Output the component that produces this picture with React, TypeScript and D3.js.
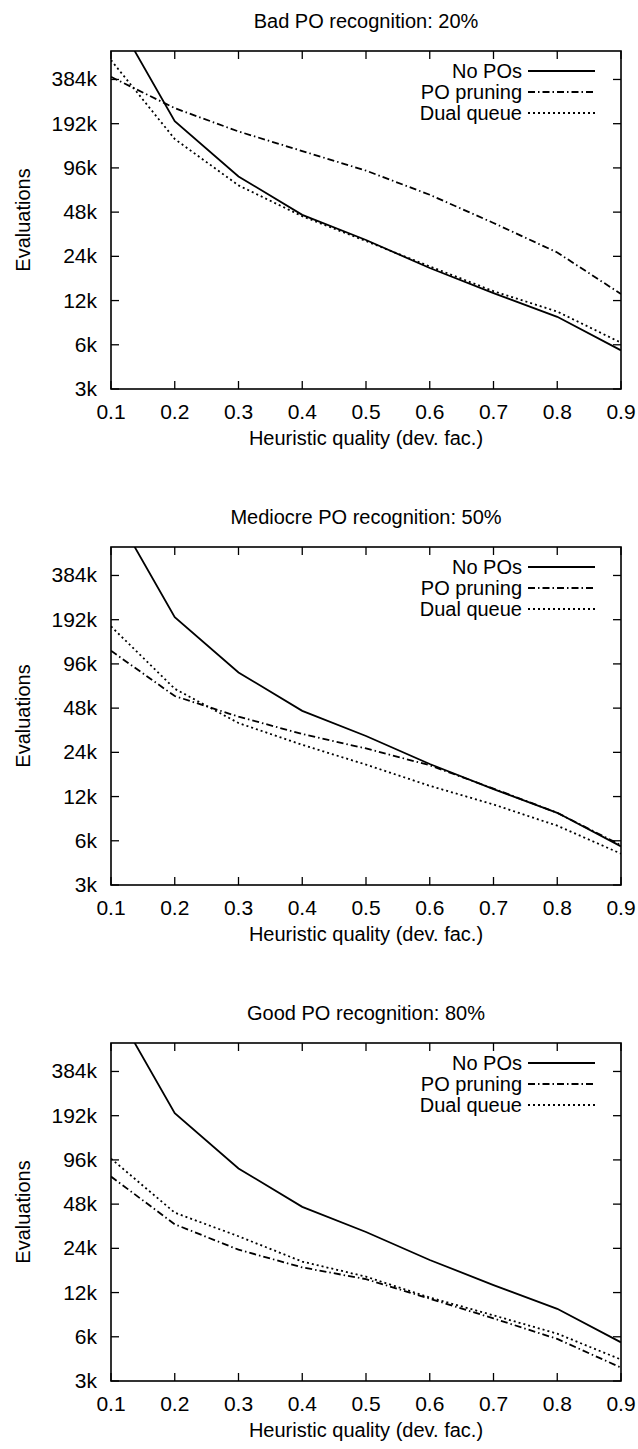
import React from "react";
import * as d3 from "d3";

const xValues = [0.1, 0.2, 0.3, 0.4, 0.5, 0.6, 0.7, 0.8, 0.9];
const xTicks = [0.1, 0.2, 0.3, 0.4, 0.5, 0.6, 0.7, 0.8, 0.9];
const yTicks = [3000, 6000, 12000, 24000, 48000, 96000, 192000, 384000];
const yTickLabels = ["3k", "6k", "12k", "24k", "48k", "96k", "192k", "384k"];

const seriesNames = ["No POs", "PO pruning", "Dual queue"];
const panelTitles = [
  "Bad PO recognition: 20%",
  "Mediocre PO recognition: 50%",
  "Good PO recognition: 80%",
];

const noPOs = [1150000, 200000, 84000, 46000, 31000, 20000, 13500, 9300, 5500];

const pruning20 = [400000, 245000, 170000, 125000, 92000, 63000, 40500, 25500, 13300];
const dual20 = [520000, 151000, 73000, 45000, 30500, 20500, 13900, 10100, 6200];

const pruning50 = [118000, 58000, 42000, 32000, 25500, 19600, 13600, 9300, 5600];
const dual50 = [173000, 65000, 38000, 27000, 19800, 14200, 10600, 7600, 4900];

const pruning80 = [74000, 35000, 23500, 17800, 14800, 10900, 8000, 5800, 3700];
const dual80 = [98000, 42000, 29000, 19500, 15400, 11100, 8400, 6300, 4200];

const panelData = [
  [noPOs, pruning20, dual20],
  [noPOs, pruning50, dual50],
  [noPOs, pruning80, dual80],
];

const dashes = [null, "7,3,1.5,3", "2,3"];

const FONT = "'Liberation Sans', Arial, Helvetica, sans-serif";
const FS = 20;
const LEFT = 111;
const RIGHT = 621;
const PANEL_H = 338;
const PANEL_TOPS = [51, 547, 1043];
const TICK = 8;

function Panel({ idx }: { idx: number }) {
  const top = PANEL_TOPS[idx];
  const bottom = top + PANEL_H;
  const x = d3.scaleLinear().domain([0.1, 0.9]).range([LEFT, RIGHT]);
  const y = d3.scaleLog().domain([3000, 600000]).range([bottom, top]);
  const line = d3
    .line<number>()
    .x((_, i) => x(xValues[i]))
    .y((v) => y(v));
  const clipId = `clip${idx}`;
  const cx = (LEFT + RIGHT) / 2;
  const cy = (top + bottom) / 2;
  return (
    <g>
      <defs>
        <clipPath id={clipId}>
          <rect x={LEFT} y={top} width={RIGHT - LEFT} height={PANEL_H} />
        </clipPath>
      </defs>
      <text x={cx} y={top - 23.5} textAnchor="middle" fontSize={FS} fontFamily={FONT}>
        {panelTitles[idx]}
      </text>
      {yTicks.map((t, i) => (
        <g key={"y" + i}>
          <line x1={LEFT} x2={LEFT + TICK} y1={y(t)} y2={y(t)} stroke="#000" strokeWidth={1.3} />
          <line x1={RIGHT} x2={RIGHT - TICK} y1={y(t)} y2={y(t)} stroke="#000" strokeWidth={1.3} />
          <text x={LEFT - 14} y={y(t) + 7} textAnchor="end" fontSize={FS + 1} fontFamily={FONT}>
            {yTickLabels[i]}
          </text>
        </g>
      ))}
      {xTicks.map((t, i) => (
        <g key={"x" + i}>
          <line x1={x(t)} x2={x(t)} y1={bottom} y2={bottom - TICK} stroke="#000" strokeWidth={1.3} />
          <line x1={x(t)} x2={x(t)} y1={top} y2={top + TICK} stroke="#000" strokeWidth={1.3} />
          <text x={x(t)} y={bottom + 30} textAnchor="middle" fontSize={FS + 1} fontFamily={FONT}>
            {t.toFixed(1)}
          </text>
        </g>
      ))}
      <text x={cx} y={bottom + 56} textAnchor="middle" fontSize={FS} fontFamily={FONT}>
        Heuristic quality (dev. fac.)
      </text>
      <text
        transform={`translate(30,${cy}) rotate(-90)`}
        textAnchor="middle"
        fontSize={FS}
        fontFamily={FONT}
      >
        Evaluations
      </text>
      <g clipPath={`url(#${clipId})`}>
        {panelData[idx].map((s, si) => (
          <path
            key={si}
            d={line(s) || ""}
            fill="none"
            stroke="#000"
            strokeWidth={1.8}
            strokeDasharray={dashes[si] || undefined}
          />
        ))}
      </g>
      {seriesNames.map((n, si) => {
        const ry = top + 20 + si * 21;
        return (
          <g key={"l" + si}>
            <text x={522} y={ry + 7} textAnchor="end" fontSize={FS} fontFamily={FONT}>
              {n}
            </text>
            <line
              x1={528}
              x2={595}
              y1={ry}
              y2={ry}
              stroke="#000"
              strokeWidth={1.8}
              strokeDasharray={dashes[si] || undefined}
            />
          </g>
        );
      })}
      <rect
        x={LEFT}
        y={top}
        width={RIGHT - LEFT}
        height={PANEL_H}
        fill="none"
        stroke="#000"
        strokeWidth={1.6}
      />
    </g>
  );
}

export default function App() {
  return (
    <svg
      width={638}
      height={1449}
      style={{ position: "absolute", left: 0, top: 0, background: "#fff" }}
    >
      <rect x={0} y={0} width={638} height={1449} fill="#fff" />
      {[0, 1, 2].map((i) => (
        <Panel key={i} idx={i} />
      ))}
    </svg>
  );
}
